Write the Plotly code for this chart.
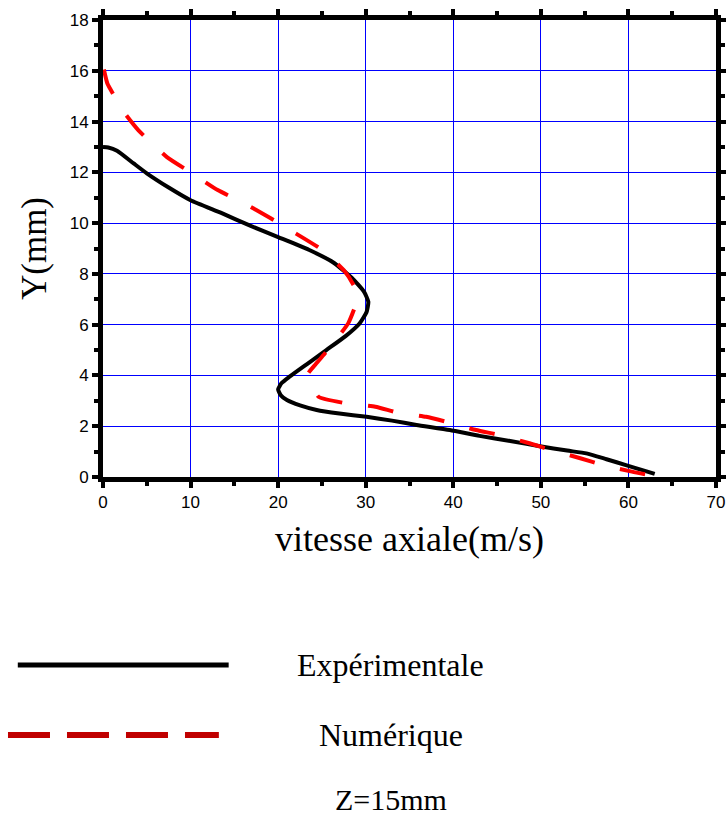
import plotly.graph_objects as go

# Experimental (black solid) profile: axial velocity (m/s) vs Y (mm)
exp_v = [0.0, 0.6, 1.6, 3.5, 5.0, 7.5, 10.0, 13.5, 16.8, 20.0, 23.5, 26.3, 28.4, 29.8, 30.3, 30.1,
         29.3, 27.7, 25.5, 23.3, 21.3, 20.4, 20.0, 20.3, 21.0, 22.5, 24.4, 27.0, 30.1, 33.0, 35.8, 39.6,
         43.0, 46.5, 49.9, 53.0, 55.2, 57.5, 59.8, 61.5, 63.0]
exp_y = [13.0, 12.98, 12.85, 12.35, 11.96, 11.4, 10.9, 10.4, 9.9, 9.45, 8.95, 8.45, 7.85, 7.3, 6.9, 6.5,
         6.05, 5.55, 5.0, 4.45, 3.95, 3.7, 3.45, 3.22, 3.03, 2.82, 2.64, 2.5, 2.37, 2.22, 2.05, 1.85,
         1.62, 1.42, 1.21, 1.04, 0.93, 0.7, 0.46, 0.28, 0.12]

# Numerical (red dashed) profile
num_v = [0.1, 0.5, 1.3, 2.1, 4.0, 7.3, 10.0, 13.1, 15.8, 19.1, 21.5, 25.0, 27.6, 28.7, 29.0,
         28.0, 26.8, 25.5, 24.3, 23.3, 23.95, 24.6, 27.8, 31.1, 33.7, 36.9, 39.6, 42.6, 45.3,
         48.7, 51.2, 54.5, 57.1, 60.4, 63.0]
num_y = [16.05, 15.5, 15.0, 14.5, 13.67, 12.6, 12.0, 11.3, 10.84, 10.2, 9.7, 8.95, 8.1, 7.5, 6.97,
         6.05, 5.5, 4.93, 4.45, 4.0, 3.58, 3.16, 2.9, 2.77, 2.53, 2.37, 2.14, 1.85, 1.65,
         1.33, 1.06, 0.74, 0.47, 0.21, 0.04]

x_ticks = [0, 10, 20, 30, 40, 50, 60, 70]
y_ticks = [0, 2, 4, 6, 8, 10, 12, 14, 16, 18]

legend_labels = ["Expérimentale", "Numérique"]
note_text = "Z=15mm"
x_title = "vitesse axiale(m/s)"
y_title = "Y(mm)"

fig = go.Figure()
fig.add_trace(go.Scatter(x=exp_v, y=exp_y, mode="lines",
                         line=dict(color="black", width=4, shape="spline", smoothing=0.5),
                         showlegend=False))
fig.add_trace(go.Scatter(x=num_v, y=num_y, mode="lines",
                         line=dict(color="#ff0000", width=4, shape="spline", smoothing=0.5,
                                   dash="26px,26px"),
                         showlegend=False))

axis_common = dict(
    showline=True, linecolor="black", linewidth=5, mirror="allticks",
    ticks="outside", ticklen=6, tickwidth=4, tickcolor="black",
    showgrid=True, gridcolor="#0000ff", gridwidth=1, zeroline=False,
    automargin=False,
    tickfont=dict(family="Liberation Sans, Arial", size=17, color="black"),
)

fig.update_xaxes(range=[0, 70], tickvals=x_ticks, ticktext=[str(v) for v in x_ticks],
                 minor=dict(dtick=5, ticks="outside", ticklen=4, tickwidth=4, tickcolor="black", showgrid=False),
                 title=dict(text=x_title, font=dict(family="Liberation Serif, Times New Roman", size=36, color="black"),
                            standoff=16),
                 **axis_common)
fig.update_yaxes(range=[0, 18], tickvals=y_ticks, ticktext=[str(v) for v in y_ticks],
                 minor=dict(dtick=1, ticks="outside", ticklen=4, tickwidth=4, tickcolor="black", showgrid=False),
                 title=dict(text=y_title, font=dict(family="Liberation Serif, Times New Roman", size=35, color="black"),
                            standoff=14),
                 **axis_common)

# Custom legend below the plot (paper coordinates)
fig.add_shape(type="line", xref="paper", yref="paper", x0=-0.139, x1=0.205, y0=-0.4114, y1=-0.4114,
              line=dict(color="black", width=5))
fig.add_shape(type="line", xref="paper", yref="paper", x0=-0.155, x1=0.189, y0=-0.5646, y1=-0.5646,
              line=dict(color="#c00000", width=6, dash="42px,17px"))

serif = dict(family="Liberation Serif, Times New Roman", size=32, color="black")
for txt, yp in zip(legend_labels, [-0.4114, -0.5646]):
    fig.add_annotation(text=txt, xref="paper", yref="paper", x=0.4698, y=yp,
                       showarrow=False, xanchor="center", yanchor="middle", font=serif)
fig.add_annotation(text=note_text, xref="paper", yref="paper", x=0.4698, y=-0.705,
                   showarrow=False, xanchor="center", yanchor="middle",
                   font=dict(family="Liberation Serif, Times New Roman", size=30, color="black"))

fig.update_layout(
    width=726, height=818,
    margin=dict(l=103, r=10, t=20, b=341),
    paper_bgcolor="white", plot_bgcolor="white",
)

fig.write_html("out.html")
